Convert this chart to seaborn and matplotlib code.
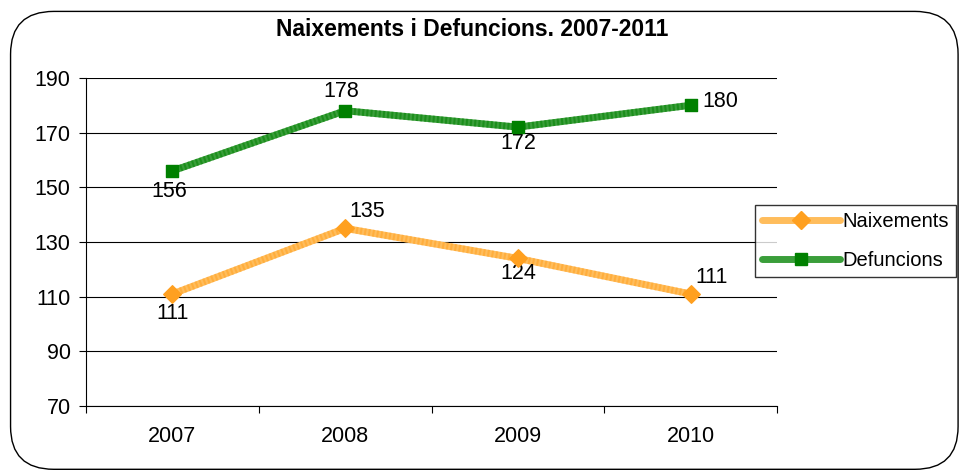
import pandas as pd
import numpy as np
import matplotlib
matplotlib.use("Agg")
import matplotlib.pyplot as plt
import seaborn as sns
from matplotlib.patches import FancyBboxPatch
from matplotlib.ticker import FixedLocator
from matplotlib.lines import Line2D

# ── Data ──────────────────────────────────────────────────────────────────────
years = ["2007", "2008", "2009", "2010"]
naixements = [111, 135, 124, 111]
defuncions = [156, 178, 172, 180]
y_ticks = [70, 90, 110, 130, 150, 170, 190]

series_names = ["Naixements", "Defuncions"]
colors = {"Naixements": "#FFBD5C", "Defuncions": "#3A9E3A"}
marker_colors = {"Naixements": "#FFA020", "Defuncions": "#008000"}
markers = {"Naixements": "D", "Defuncions": "s"}

df = pd.DataFrame({
    "year": years * 2,
    "value": naixements + defuncions,
    "serie": ["Naixements"] * len(years) + ["Defuncions"] * len(years),
})
df["x"] = list(range(len(years))) * 2

# label offsets in points (dx, dy) per series
offsets = {
    "Naixements": [(0, -14), (16, 12), (0, -11), (15, 12)],
    "Defuncions": [(-2, -15), (-3, 14), (0, -12), (21, 3)],
}

FS = 15.5

# ── Plot ──────────────────────────────────────────────────────────────────────
sns.set_theme(style="white")
plt.rcParams["font.family"] = ["Liberation Sans", "DejaVu Sans"]
plt.rcParams["text.color"] = "black"
plt.rcParams["xtick.color"] = "black"
plt.rcParams["ytick.color"] = "black"

fig = plt.figure(figsize=(9.6, 4.75), dpi=100)
ax = fig.add_axes([0.0896, 0.145, 0.7198, 0.691])

# rounded outer border
border = FancyBboxPatch((0.011, 0.012), 0.987, 0.964,
                        boxstyle="round,pad=0,rounding_size=0.045",
                        transform=fig.transFigure, fill=False,
                        edgecolor="black", linewidth=1.0, mutation_aspect=2.0)
fig.patches.append(border)

for name in series_names:
    sub = df[df["serie"] == name]
    sns.lineplot(data=sub, x="x", y="value", ax=ax, color=colors[name],
                 linewidth=5, zorder=3, legend=False)
    ax.plot(sub["x"], sub["value"], color=marker_colors[name], linewidth=5,
            linestyle=(0, (0.3, 0.3)), alpha=0.5, zorder=3)
    ax.scatter(sub["x"], sub["value"], marker=markers[name],
               s=80 if name == "Naixements" else 75,
               color=marker_colors[name], zorder=4)
    for (xi, yi), (dx, dy) in zip(zip(sub["x"], sub["value"]), offsets[name]):
        ax.annotate(str(yi), (xi, yi), xytext=(dx, dy), textcoords="offset points",
                    ha="center", va="center", fontsize=FS, color="black")

ax.set_xlim(-0.5, len(years) - 0.5)
ax.set_ylim(70, 190)
ax.yaxis.set_major_locator(FixedLocator(y_ticks))
ax.set_yticklabels([str(t) for t in y_ticks])
ax.set_xticks(range(len(years)))
ax.set_xticklabels(years)
ax.xaxis.set_minor_locator(FixedLocator(np.arange(-0.5, len(years), 1.0)))
ax.tick_params(axis="x", which="major", length=0, pad=14, labelsize=FS)
ax.tick_params(axis="x", which="minor", length=5, width=0.8, direction="out",
               bottom=True, color="black")
ax.tick_params(axis="y", which="major", length=5, width=0.8, direction="out",
               left=True, labelsize=FS, color="black", pad=6)
ax.grid(axis="y", color="black", linewidth=0.8)
ax.set_axisbelow(True)
for side in ["top", "right"]:
    ax.spines[side].set_visible(False)
for side in ["left", "bottom"]:
    ax.spines[side].set_color("black")
    ax.spines[side].set_linewidth(0.8)
ax.set_xlabel("")
ax.set_ylabel("")

fig.text(0.492, 0.937, "Naixements i Defuncions. 2007-2011", fontsize=16.5,
         fontweight="bold", ha="center", va="center", color="black")

# legend
handles = [Line2D([0], [0], color=colors[n], linewidth=5, marker=markers[n],
                  markersize=9, markerfacecolor=marker_colors[n],
                  markeredgecolor=marker_colors[n]) for n in series_names]
leg = fig.legend(handles, series_names, loc="center left",
                 bbox_to_anchor=(0.786, 0.493), frameon=True, fancybox=False,
                 edgecolor="black", fontsize=14.5, handlelength=3.9,
                 handletextpad=0.1, borderpad=0.35, labelspacing=1.0,
                 borderaxespad=0)
leg.get_frame().set_linewidth(1.0)

fig.savefig("out.png", dpi=100)
